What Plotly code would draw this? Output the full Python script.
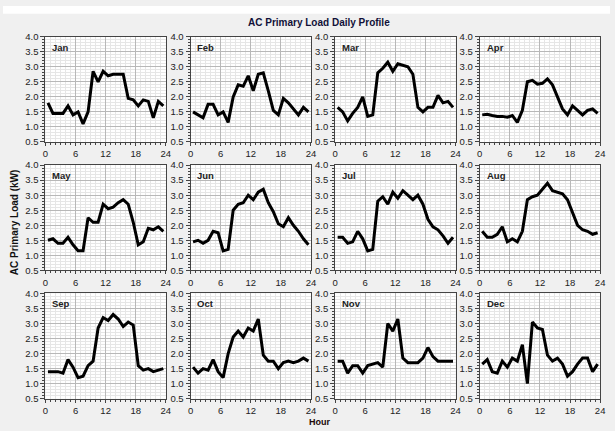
import plotly.graph_objects as go

# ---- data -------------------------------------------------------------
HOURS = [0.5, 1.5, 2.5, 3.5, 4.5, 5.5, 6.5, 7.5, 8.5, 9.5, 10.5, 11.5,
         12.5, 13.5, 14.5, 15.5, 16.5, 17.5, 18.5, 19.5, 20.5, 21.5, 22.5, 23.5]
MONTHS = ["Jan", "Feb", "Mar", "Apr", "May", "Jun",
          "Jul", "Aug", "Sep", "Oct", "Nov", "Dec"]
X_TICKS = [0, 6, 12, 18, 24]

JAN = [1.80, 1.45, 1.45, 1.45, 1.70, 1.40, 1.50, 1.10, 1.50, 2.85, 2.50, 2.85,
       2.70, 2.75, 2.75, 2.75, 1.95, 1.90, 1.70, 1.90, 1.85, 1.30, 1.85, 1.70]
FEB = [1.50, 1.40, 1.30, 1.75, 1.75, 1.40, 1.50, 1.15, 2.00, 2.40, 2.35, 2.70,
       2.20, 2.75, 2.80, 2.20, 1.55, 1.40, 1.95, 1.80, 1.60, 1.40, 1.65, 1.50]
MAR = [1.65, 1.50, 1.20, 1.45, 1.65, 2.00, 1.35, 1.40, 2.80, 2.95, 3.15, 2.85,
       3.10, 3.05, 3.00, 2.75, 1.65, 1.50, 1.65, 1.65, 2.05, 1.80, 1.85, 1.65]
APR = [1.40, 1.42, 1.38, 1.35, 1.35, 1.32, 1.38, 1.15, 1.55, 2.50, 2.55, 2.42,
       2.45, 2.60, 2.40, 2.00, 1.60, 1.40, 1.70, 1.55, 1.40, 1.55, 1.60, 1.45]
MAY = [1.50, 1.55, 1.40, 1.40, 1.60, 1.35, 1.15, 1.15, 2.25, 2.10, 2.10, 2.70,
       2.55, 2.60, 2.75, 2.85, 2.70, 2.10, 1.35, 1.45, 1.90, 1.85, 1.95, 1.80]
JUN = [1.45, 1.50, 1.40, 1.50, 1.80, 1.75, 1.15, 1.20, 2.50, 2.70, 2.75, 3.00,
       2.85, 3.10, 3.20, 2.75, 2.45, 2.05, 1.95, 2.25, 2.00, 1.80, 1.55, 1.35]
JUL = [1.60, 1.60, 1.40, 1.45, 1.80, 1.55, 1.15, 1.20, 2.80, 2.95, 2.70, 3.10,
       2.90, 3.15, 3.00, 2.85, 3.00, 2.70, 2.20, 1.95, 1.85, 1.65, 1.40, 1.60]
AUG = [1.80, 1.60, 1.60, 1.70, 1.95, 1.45, 1.55, 1.45, 1.80, 2.85, 2.95, 3.00,
       3.20, 3.40, 3.15, 3.10, 3.05, 2.85, 2.40, 2.00, 1.85, 1.80, 1.70, 1.75]
SEP = [1.40, 1.40, 1.40, 1.35, 1.80, 1.55, 1.20, 1.25, 1.60, 1.75, 2.85, 3.20,
       3.10, 3.30, 3.15, 2.90, 3.05, 2.95, 1.60, 1.45, 1.50, 1.40, 1.45, 1.50]
OCT = [1.55, 1.35, 1.50, 1.45, 1.80, 1.40, 1.20, 2.00, 2.55, 2.75, 2.55, 2.85,
       2.75, 3.15, 1.95, 1.75, 1.75, 1.50, 1.70, 1.75, 1.70, 1.75, 1.85, 1.75]
NOV = [1.75, 1.75, 1.35, 1.60, 1.60, 1.35, 1.60, 1.65, 1.70, 1.55, 3.00, 2.75,
       3.15, 1.85, 1.70, 1.70, 1.70, 1.85, 2.20, 1.90, 1.75, 1.75, 1.75, 1.75]
DEC = [1.65, 1.80, 1.40, 1.35, 1.75, 1.55, 1.85, 1.75, 2.30, 1.00, 3.05, 2.85,
       2.80, 1.95, 1.75, 1.85, 1.65, 1.25, 1.40, 1.65, 1.85, 1.85, 1.40, 1.65]

LOADS = [JAN, FEB, MAR, APR, MAY, JUN, JUL, AUG, SEP, OCT, NOV, DEC]

# ---- layout geometry (pixels) ----------------------------------------
W, H = 615, 431
COL_L = [43, 190, 336.5, 483]
PW = 122
ROW_T = [31.5, 163.3, 295]
PH = 108

FONT = "Liberation Sans, Arial, sans-serif"

fig = go.Figure()
annotations = []
axes = {}
for i, (month, vals) in enumerate(zip(MONTHS, LOADS)):
    r, c = divmod(i, 4)
    n = "" if i == 0 else str(i + 1)
    fig.add_trace(go.Scatter(
        x=HOURS, y=vals, mode="lines",
        line=dict(color="black", width=3),
        xaxis="x" + n, yaxis="y" + n,
        showlegend=False, hoverinfo="skip"))
    x0 = COL_L[c] / W
    x1 = (COL_L[c] + PW) / W
    y1 = 1 - ROW_T[r] / H
    y0 = 1 - (ROW_T[r] + PH) / H
    common = dict(
        showgrid=True, gridcolor="#b8b8b8", gridwidth=1,
        showline=True, linecolor="#444444", linewidth=1, mirror=True,
        ticks="outside", tickcolor="#444444",
        tickfont=dict(family=FONT, size=9.5, color="#222222"),
        zeroline=False, fixedrange=True,
    )
    axes["xaxis" + n] = dict(
        domain=[x0, x1], anchor="y" + n, range=[0, 24], ticklen=3,
        tickmode="array", tickvals=X_TICKS, ticktext=[str(t) for t in X_TICKS],
        minor=dict(dtick=1, tick0=0, showgrid=True, gridcolor="#e6e6e6",
                   ticks="outside", ticklen=2, tickcolor="#444444"),
        **common)
    axes["yaxis" + n] = dict(
        domain=[y0, y1], anchor="x" + n, range=[0.5, 4.0], ticklen=4,
        dtick=0.5, tick0=0.5, tickformat=".1f",
        minor=dict(dtick=0.1, tick0=0.5, showgrid=True, gridcolor="#e6e6e6",
                   ticks="outside", ticklen=2, tickcolor="#444444"),
        **common)
    annotations.append(dict(
        text="<b>%s</b>" % month, xref="paper", yref="paper",
        x=x0 + 5 / W, y=y1 - 3 / H, xanchor="left", yanchor="top",
        showarrow=False, font=dict(family=FONT, size=9.5, color="#222222")))

annotations += [
    dict(text="<b>AC Primary Load Daily Profile</b>", xref="paper", yref="paper",
         x=320 / W, y=1 - 17 / H, xanchor="center", yanchor="middle",
         showarrow=False, font=dict(family=FONT, size=10, color="#101038")),
    dict(text="<b>AC Primary Load (kW)</b>", xref="paper", yref="paper",
         x=11 / W, y=1 - 222 / H, xanchor="center", yanchor="middle",
         textangle=-90, showarrow=False,
         font=dict(family=FONT, size=10, color="#101010")),
    dict(text="<b>Hour</b>", xref="paper", yref="paper",
         x=321 / W, y=1 - 426.5 / H, xanchor="center", yanchor="middle",
         showarrow=False, font=dict(family=FONT, size=9, color="#200808")),
]

fig.update_layout(
    width=W, height=H, autosize=False,
    margin=dict(l=0, r=0, t=0, b=0),
    paper_bgcolor="#f0f0f0", plot_bgcolor="white",
    annotations=annotations,
    shapes=[dict(type="rect", xref="paper", yref="paper", x0=0, x1=1,
                 y0=1 - 8 / H, y1=1, fillcolor="white", line=dict(width=0),
                 layer="below")],
    **axes)

fig.write_html("out.html")
